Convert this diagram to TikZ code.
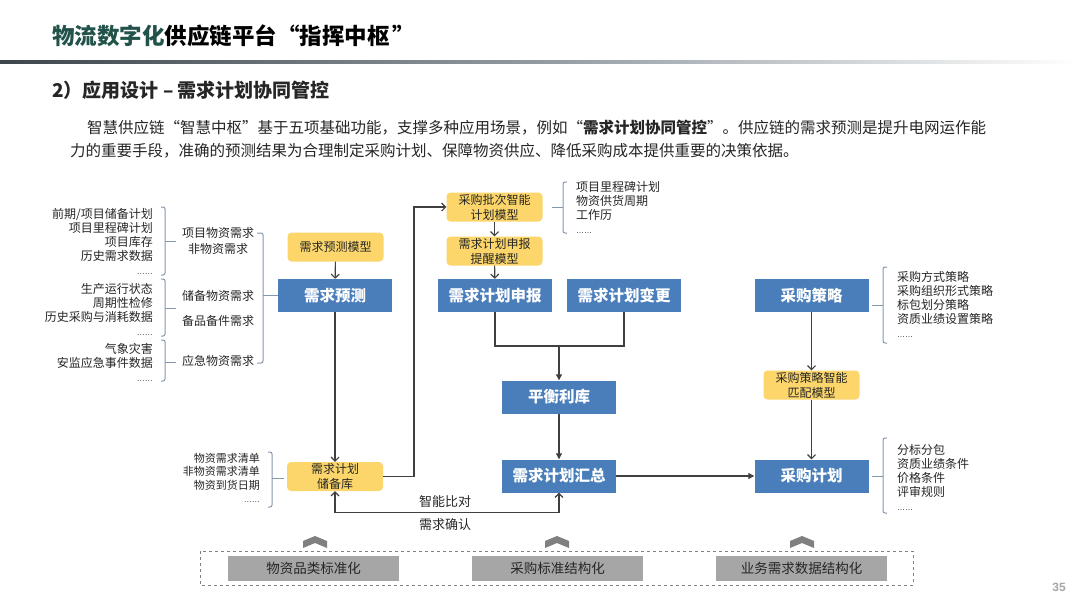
\documentclass[tikz,border=0pt]{standalone}
\usepackage{fontspec}
\setmainfont{Noto Sans CJK SC}
\newfontfamily\lat{Liberation Sans}
\usetikzlibrary{arrows.meta}
\definecolor{bluebox}{HTML}{4A7EBB}
\definecolor{yel}{HTML}{FCD66A}
\definecolor{grayb}{HTML}{A6A6A6}
\definecolor{chevc}{HTML}{808080}
\definecolor{brkc}{HTML}{8597AE}
\definecolor{linec}{HTML}{404040}
\definecolor{txt}{HTML}{262626}
\definecolor{tgreen}{HTML}{22534A}
\definecolor{lineDark}{HTML}{3E464D}
\definecolor{lineMid}{HTML}{929BA2}
\newcommand{\ellip}{{\lat\fontsize{8}{14}\selectfont ……}}
\begin{document}
\begin{tikzpicture}[x=1pt,y=-1pt,
  bbox/.style={fill=bluebox, text=white, font=\bfseries\fontsize{15.5}{18}\selectfont, minimum width=114pt, minimum height=33pt, inner sep=0pt},
  ybox/.style={fill=yel, rounded corners=4pt, font=\fontsize{12}{15}\selectfont, align=center, minimum width=96pt, minimum height=29pt, inner sep=0pt, text=txt},
  gbox/.style={fill=grayb, minimum width=171pt, minimum height=25pt, inner sep=0pt, font=\fontsize{13.5}{16}\selectfont, text=txt},
  lbl/.style={font=\fontsize{12}{14}\selectfont, text=txt, inner sep=0pt},
  slbl/.style={font=\fontsize{11}{13.5}\selectfont, text=txt, inner sep=0pt},
  brk/.style={draw=brkc, line width=1pt, rounded corners=2pt},
  conn/.style={draw=linec, line width=1.1pt},
  oarr/.style={-{Straight Barb[length=4pt,width=8pt]}},
  farr/.style={-{Triangle[length=6pt,width=6pt]}},
  chev/.style={fill=chevc}
]
\useasboundingbox (0,0) rectangle (1080,608);
\fill[white] (0,0) rectangle (1080,608);

% header
\node[anchor=west, inner sep=0pt, font=\bfseries\fontsize{22.5}{26}\selectfont] (title) at (52,36) {{\color{tgreen}物流数字化}供应链平台“指挥中枢\hspace{3pt}”};
\shade[left color=lineDark, right color=lineMid] (0,60.5) rectangle (540,63.5);
\shade[left color=lineMid, right color=white] (540,60.5) rectangle (1080,63.5);
\node[anchor=west, inner sep=0pt, text=txt, font=\bfseries\fontsize{19}{22}\selectfont] (sub) at (52,90) {2）应用设计 – 需求计划协同管控};
\node[anchor=west, inner sep=0pt, text=txt, font=\fontsize{15.5}{18}\selectfont] (p1) at (87,128) {智慧供应链“智慧中枢”基于五项基础功能，支撑多种应用场景，例如“\textbf{需求计划协同管控}”。供应链的需求预测是提升电网运作能};
\node[anchor=west, inner sep=0pt, text=txt, font=\fontsize{15.5}{18}\selectfont] (p2) at (70,151) {力的重要手段，准确的预测结果为合理制定采购计划、保障物资供应、降低采购成本提供重要的决策依据。};

% main boxes
\node[ybox] (mdl) at (335.5,247) {需求预测模型};
\node[bbox] (fc) at (335,295.5) {需求预测};
\node[ybox] (batch) at (494.5,207) {采购批次智能\\计划模型};
\node[ybox] (remind) at (494.5,251) {需求计划申报\\提醒模型};
\node[bbox] (rep) at (495,295.5) {需求计划申报};
\node[bbox] (chg) at (624,295.5) {需求计划变更};
\node[bbox] (bal) at (559,397) {平衡利库};
\node[bbox] (sum) at (559,476) {需求计划汇总};
\node[ybox] (pool) at (335,476.5) {需求计划\\储备库};
\node[bbox] (strat) at (811.5,295.5) {采购策略};
\node[ybox] (match) at (811.5,385) {采购策略智能\\匹配模型};
\node[bbox] (plan) at (811.5,476) {采购计划};

% connectors
\coordinate (c1) at (414,476.5);
\coordinate (j1) at (559,346);
\draw[conn,oarr] (mdl) -- (fc);
\draw[conn,oarr] (fc) -- (pool);
\draw[conn,oarr] (pool.east) -- (c1) |- (batch.west);
\draw[conn,oarr] (batch) -- (remind);
\draw[conn,oarr] (remind) -- (rep);
\draw[conn] (rep.south) |- (j1) -| (chg.south);
\draw[conn,farr] (j1) -- (bal);
\draw[conn,farr] (bal) -- (sum);
\draw[conn,farr] (sum) -- (plan);
\draw[conn,oarr] (strat) -- (match);
\draw[conn,oarr] (match) -- (plan);
\draw[conn,{Straight Barb[length=4pt,width=8pt]}-{Straight Barb[length=4pt,width=8pt]}] (pool.south) -- ++(0,21) -| (sum.south);
\node[lbl, font=\fontsize{13}{15}\selectfont] (cmp) at (445,502) {智能比对};
\node[lbl, font=\fontsize{13}{15}\selectfont] (cfm) at (445,525) {需求确认};

% left lists
\node[lbl, align=right, anchor=east] (l1) at (153,241) {前期/项目储备计划\\项目里程碑计划\\项目库存\\历史需求数据\\\ellip};
\node[lbl, align=right, anchor=east] (l2) at (153,309.5) {生产运行状态\\周期性检修\\历史采购与消耗数据\\\ellip};
\node[lbl, align=right, anchor=east] (l3) at (153,362) {气象灾害\\安监应急事件数据\\\ellip};
\draw[brk] (161,207) -- (165,207) -- (165,275) -- (161,275);
\draw[brk] (165,241) -- (176,241);
\draw[brk] (161,279) -- (165,279) -- (165,336) -- (161,336);
\draw[brk] (165,308) -- (176,308);
\draw[brk] (161,340) -- (165,340) -- (165,381) -- (161,381);
\draw[brk] (165,362) -- (176,362);

\node[lbl, align=center, font=\fontsize{12}{16}\selectfont] (m1) at (218,241) {项目物资需求\\非物资需求};
\node[lbl] (m2) at (218,296) {储备物资需求};
\node[lbl] (m3) at (218,321) {备品备件需求};
\node[lbl] (m4) at (218,361) {应急物资需求};
\draw[brk] (257,233) -- (263,233) -- (263,363) -- (257,363);
\draw[brk] (263,295.5) -- (fc.west);

% right lists
\node[lbl, align=left, anchor=west] (r1) at (576,207) {项目里程碑计划\\物资供货周期\\工作历\\\ellip};
\draw[brk] (567,182) -- (563,182) -- (563,233) -- (567,233);
\draw[brk] (552,207) -- (563,207);

\node[lbl, align=left, anchor=west] (r2) at (897,304) {采购方式策略\\采购组织形式策略\\标包划分策略\\资质业绩设置策略\\\ellip};
\draw[brk] (887,267) -- (883,267) -- (883,343) -- (887,343);
\draw[brk] (872,305) -- (883,305);

\node[lbl, align=left, anchor=west] (r3) at (897,477) {分标分包\\资质业绩条件\\价格条件\\评审规则\\\ellip};
\draw[brk] (887,438) -- (883,438) -- (883,513) -- (887,513);
\draw[brk] (872,476) -- (883,476);

% pool list
\node[slbl, align=right, anchor=east] (l4) at (260,478) {物资需求清单\\非物资需求清单\\物资到货日期\\\ellip};
\draw[brk] (268,452) -- (272,452) -- (272,507) -- (268,507);
\draw[brk] (272,478) -- (284,478);

% bottom
\draw[chevc, dashed, line width=1pt] (200,551) rectangle (913,585);
\node[gbox] (g1) at (313.5,568.5) {物资品类标准化};
\node[gbox] (g2) at (557.5,568.5) {采购标准结构化};
\node[gbox] (g3) at (801.5,568.5) {业务需求数据结构化};
\foreach \cx in {315,557,802}{
  \fill[chev] (\cx-12,541) -- (\cx,536) -- (\cx+12,541) -- (\cx+12,548) -- (\cx,543) -- (\cx-12,548) -- cycle;
}
\node[inner sep=0pt, text=black!35, font=\lat\bfseries\fontsize{12}{14}\selectfont] (pg) at (1059,587) {35};
\end{tikzpicture}
\end{document}
